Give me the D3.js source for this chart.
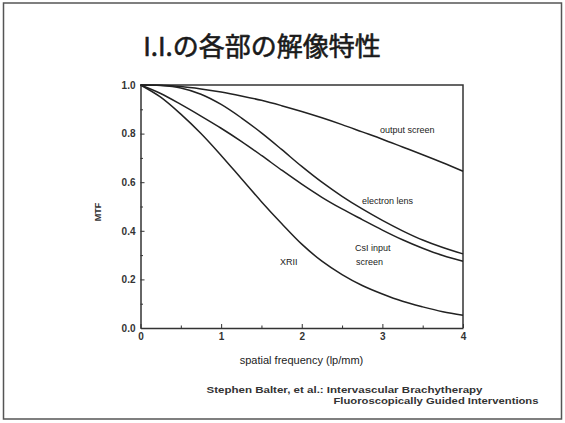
<!DOCTYPE html>
<html>
<head>
<meta charset="utf-8">
<script src="https://cdn.jsdelivr.net/npm/d3@7"></script>
<style>
  html, body { margin: 0; padding: 0; background: #fff; }
  svg { display: block; }
  .axis text { font-family: "Liberation Sans", Arial, sans-serif; font-size: 10px; font-weight: bold; fill: #333; }
  .axis path, .axis line { stroke: #333; }
</style>
</head>
<body>
<svg id="chart" width="565" height="423"></svg>
<script>
// Spatial frequency samples (lp/mm)
const freq = [0, 0.25, 0.5, 0.75, 1.0, 1.25, 1.5, 1.75, 2.0, 2.25, 2.5, 2.75, 3.0, 3.25, 3.5, 3.75, 4.0];

// MTF of each image-intensifier stage
const outputScreen = [1.0, 0.999, 0.994, 0.984, 0.971, 0.955, 0.937, 0.915, 0.891, 0.865, 0.837, 0.807, 0.777, 0.745, 0.713, 0.68, 0.645];
const electronLens = [1.0, 0.998, 0.988, 0.962, 0.92, 0.865, 0.803, 0.735, 0.665, 0.60, 0.542, 0.49, 0.443, 0.40, 0.362, 0.331, 0.305];
const csiInput     = [1.0, 0.965, 0.92, 0.872, 0.822, 0.768, 0.71, 0.65, 0.592, 0.538, 0.49, 0.446, 0.403, 0.363, 0.328, 0.298, 0.275];
const xrii         = [1.0, 0.95, 0.88, 0.80, 0.71, 0.615, 0.52, 0.43, 0.345, 0.275, 0.22, 0.175, 0.14, 0.11, 0.087, 0.067, 0.052];

const seriesNames = ["output screen", "electron lens", "CsI input screen", "XRII"];
const seriesValues = [outputScreen, electronLens, csiInput, xrii];

const xTicks = [0, 1, 2, 3, 4];
const xMinorTicks = [0.5, 1.5, 2.5, 3.5];
const yTicks = [0, 0.2, 0.4, 0.6, 0.8, 1.0];
const yMinorTicks = [0.1, 0.3, 0.5, 0.7, 0.9];

const svg = d3.select("#chart");

// slide frame
svg.append("rect")
  .attr("x", 3.5).attr("y", 3).attr("width", 558).attr("height", 416)
  .attr("fill", "#fff").attr("stroke", "#555").attr("stroke-width", 1.5);

// title
svg.append("text")
  .attr("x", 262).attr("y", 56)
  .attr("text-anchor", "middle")
  .attr("font-family", "'Noto Sans CJK JP', 'Noto Sans', sans-serif")
  .attr("font-size", 26)
  .attr("fill", "#1a1a1a")
  .attr("stroke", "#1a1a1a").attr("stroke-width", 0.6)
  .text("I.I.の各部の解像特性");

const plot = { left: 140.5, right: 463, top: 85, bottom: 328 };
const x = d3.scaleLinear().domain([0, 4]).range([plot.left, plot.right]);
const y = d3.scaleLinear().domain([0, 1]).range([plot.bottom, plot.top]);

// plot box (top and right edges)
svg.append("path")
  .attr("d", `M${plot.left},${plot.top}H${plot.right}V${plot.bottom}`)
  .attr("fill", "none").attr("stroke", "#333").attr("stroke-width", 1.5);

// minor ticks
svg.append("g").attr("class", "axis")
  .attr("transform", `translate(0,${plot.bottom})`)
  .call(d3.axisBottom(x).tickValues(xMinorTicks).tickSize(-2.5).tickFormat(""))
  .call(g => g.select(".domain").remove());
svg.append("g").attr("class", "axis")
  .attr("transform", `translate(${plot.left},0)`)
  .call(d3.axisLeft(y).tickValues(yMinorTicks).tickSize(-2.5).tickFormat(""))
  .call(g => g.select(".domain").remove());

// major axes
const xAxis = svg.append("g").attr("class", "axis")
  .attr("transform", `translate(0,${plot.bottom})`)
  .call(d3.axisBottom(x).tickValues(xTicks).tickSizeInner(-4).tickSizeOuter(0).tickPadding(5).tickFormat(d3.format("d")));
xAxis.selectAll("text").attr("font-size", 11);
xAxis.select(".domain").attr("stroke-width", 1.5);

const yAxis = svg.append("g").attr("class", "axis")
  .attr("transform", `translate(${plot.left},0)`)
  .call(d3.axisLeft(y).tickValues(yTicks).tickSizeInner(-4).tickSizeOuter(0).tickPadding(5).tickFormat(d3.format(".1f")));
yAxis.select(".domain").attr("stroke-width", 1.5);

// axis titles
const labelFont = "'Liberation Sans', Arial, sans-serif";
svg.append("text")
  .attr("transform", "translate(101,212) rotate(-90)")
  .attr("text-anchor", "middle")
  .attr("font-family", labelFont).attr("font-size", 9).attr("font-weight", "bold").attr("fill", "#333")
  .text("MTF");
svg.append("text")
  .attr("x", 301.5).attr("y", 364)
  .attr("text-anchor", "middle")
  .attr("font-family", labelFont).attr("font-size", 11).attr("fill", "#222")
  .text("spatial frequency (lp/mm)");

// curves
const line = d3.line()
  .x((d, i) => x(freq[i]))
  .y(d => y(d))
  .curve(d3.curveCatmullRom.alpha(0.5));

svg.append("g").selectAll("path")
  .data(seriesValues)
  .join("path")
  .attr("d", line)
  .attr("fill", "none")
  .attr("stroke", "#222")
  .attr("stroke-width", 1.5);

// curve labels
const curveLabels = [
  { text: "output screen", x: 380, y: 132.5 },
  { text: "electron lens", x: 362, y: 204 },
  { text: "CsI input", x: 355, y: 251 },
  { text: "screen", x: 356, y: 265 },
  { text: "XRII", x: 280, y: 264.5 }
];
svg.append("g").selectAll("text")
  .data(curveLabels)
  .join("text")
  .attr("x", d => d.x).attr("y", d => d.y)
  .attr("font-family", labelFont).attr("font-size", 9).attr("fill", "#222")
  .text(d => d.text);

// source citation
const citeLines = [
  { text: "Stephen Balter, et al.: Intervascular Brachytherapy", x: 206.5, y: 392.5, w: 276 },
  { text: "Fluoroscopically Guided Interventions", x: 333.5, y: 404, w: 205 }
];
svg.append("g").selectAll("text")
  .data(citeLines)
  .join("text")
  .attr("x", d => d.x).attr("y", d => d.y)
  .attr("textLength", d => d.w).attr("lengthAdjust", "spacingAndGlyphs")
  .attr("font-family", labelFont).attr("font-size", 9.5).attr("font-weight", "bold").attr("fill", "#333")
  .text(d => d.text);
</script>
</body>
</html>
